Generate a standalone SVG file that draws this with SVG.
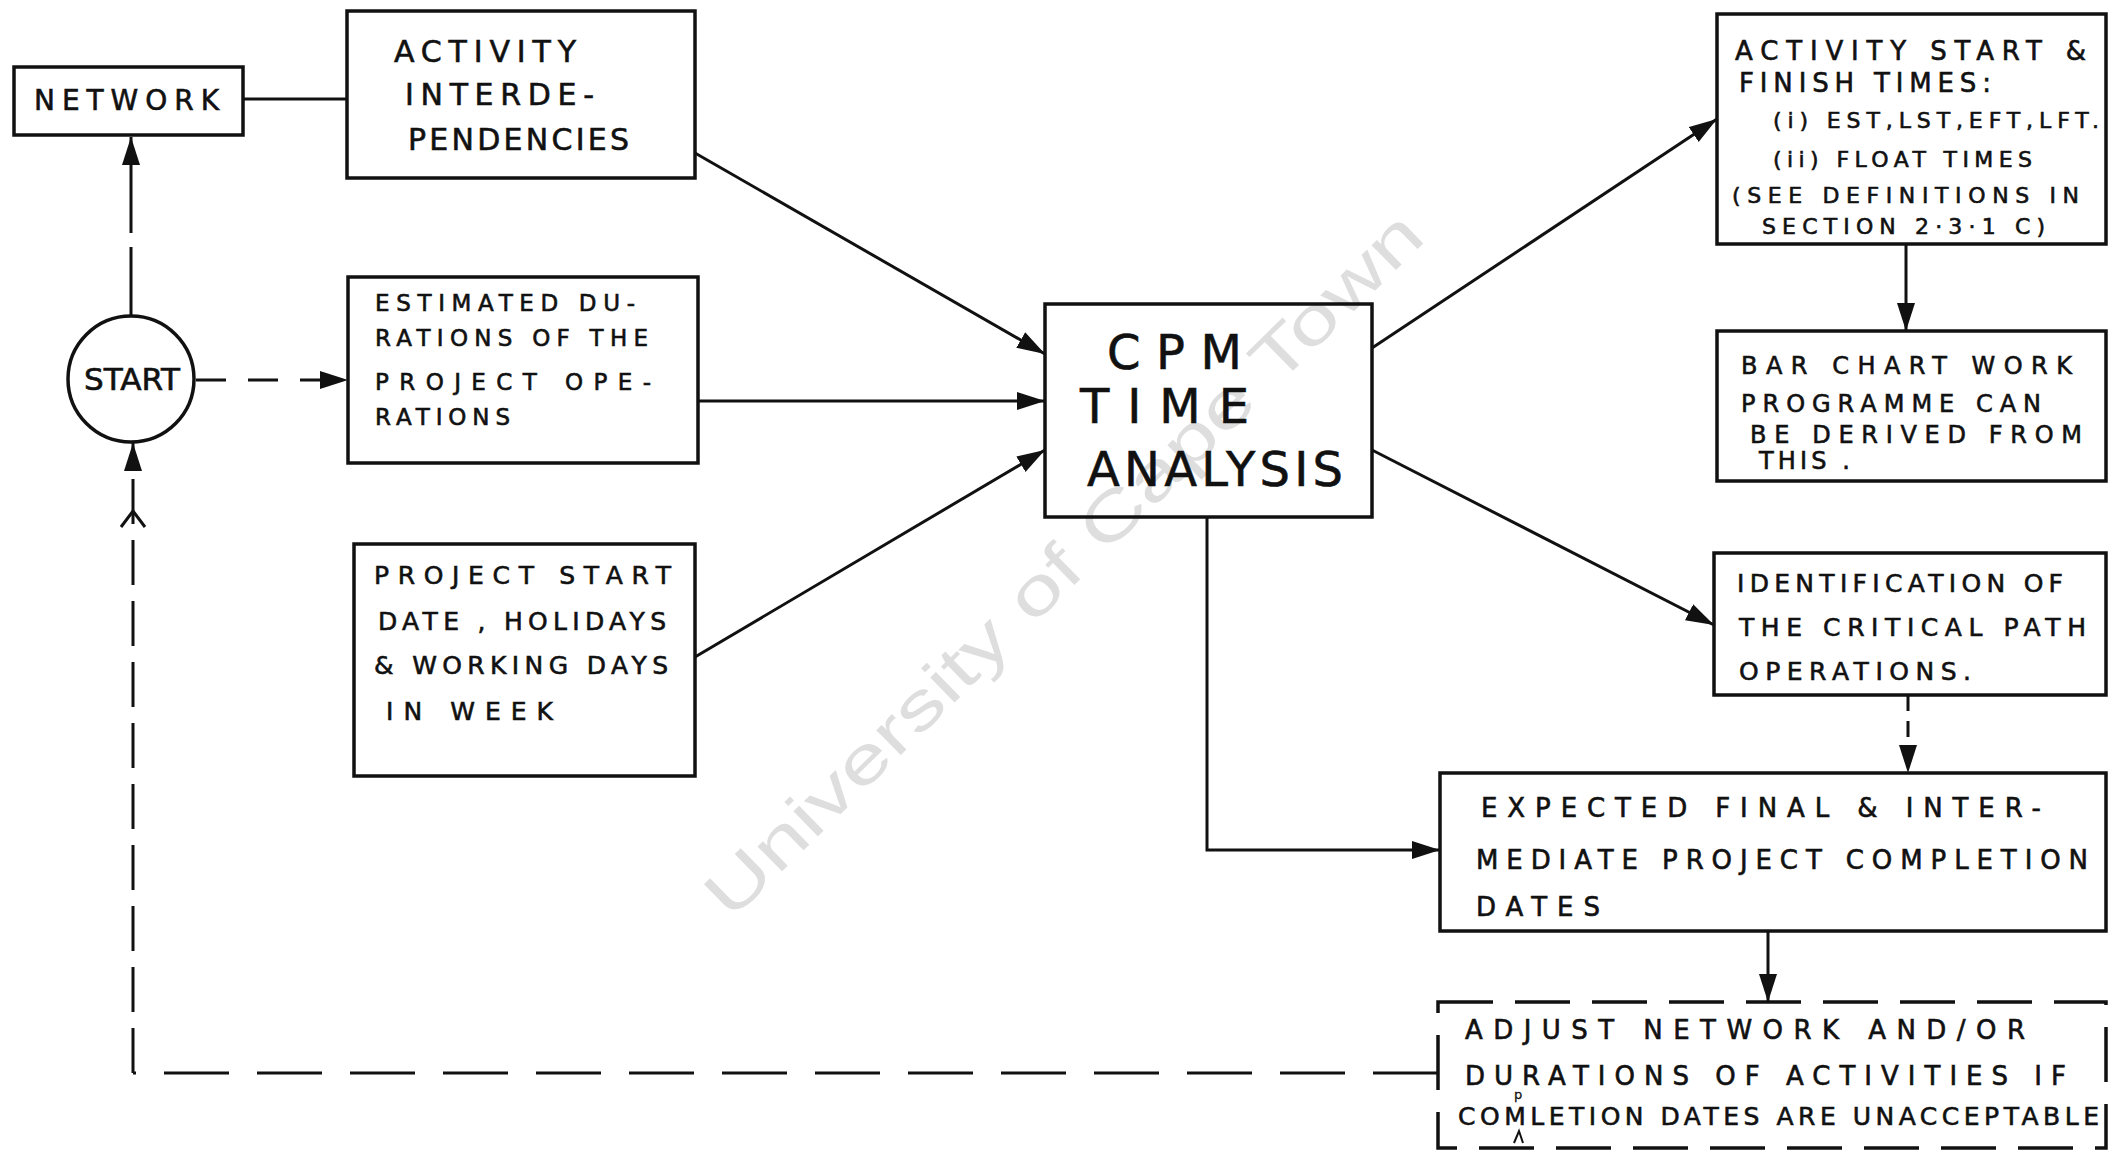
<svg xmlns="http://www.w3.org/2000/svg" width="2117" height="1151" viewBox="0 0 2117 1151">
  <style>
    .box { fill: none; stroke: #111; stroke-width: 3.5; }
    .dbox { fill: none; stroke: #111; stroke-width: 3.5; stroke-dasharray: 55 22; }
    .t { font-family: "DejaVu Sans", "Liberation Sans", sans-serif; fill: #111; stroke: #111; stroke-width: 0.6; font-size: 26px; }
    .ln { fill: none; stroke: #111; stroke-width: 3; }
    .wm { font-family: "Liberation Sans", Arial, sans-serif; font-size: 66px; fill: #dedede; }
  </style>
  <defs>
    <marker id="ah" markerUnits="userSpaceOnUse" markerWidth="30" markerHeight="20" refX="28" refY="9" orient="auto">
      <path d="M0,0 L28,9 L0,18 z" fill="#111"/>
    </marker>
  </defs>

  <rect width="2117" height="1151" fill="#fff"/>

  <!-- watermark -->
  <text class="wm" x="1063" y="587" text-anchor="middle" textLength="975" lengthAdjust="spacingAndGlyphs" transform="rotate(-44.4 1063 564)">University of Cape Town</text>

  <!-- connectors -->
  <g id="connectors">
    <line class="ln" x1="243" y1="99" x2="347" y2="99"/>
    <path class="ln" d="M131,317 V137" stroke-dasharray="70 14" marker-end="url(#ah)"/>
    <path class="ln" d="M196,380 H348" stroke-dasharray="30 22" marker-end="url(#ah)"/>
    <path class="ln" d="M695,153 L1045,354" marker-end="url(#ah)"/>
    <path class="ln" d="M698,401 H1045" marker-end="url(#ah)"/>
    <path class="ln" d="M695,657 L1045,450" marker-end="url(#ah)"/>
    <path class="ln" d="M1372,348 L1717,119" marker-end="url(#ah)"/>
    <path class="ln" d="M1906,244 V331" marker-end="url(#ah)"/>
    <path class="ln" d="M1372,450 L1714,625" marker-end="url(#ah)"/>
    <path class="ln" d="M1908,695 V773" stroke-dasharray="16 10" marker-end="url(#ah)"/>
    <path class="ln" d="M1207,517 V850 H1440" marker-end="url(#ah)"/>
    <path class="ln" d="M1768,931 V1002" marker-end="url(#ah)"/>
    <path class="ln" d="M1438,1073 H133" stroke-dasharray="65 28"/>
    <path class="ln" d="M133,1073 V443" stroke-dasharray="45 16" marker-end="url(#ah)"/>
    <path class="ln" d="M121,527 L133,511 L145,527"/>
  </g>

  <g id="network">
    <rect class="box" x="14" y="67" width="229" height="68"/>
    <text class="t" x="34" y="110" style="font-size:28px" textLength="185" lengthAdjust="spacing">NETWORK</text>
  </g>

  <g id="start">
    <circle class="box" cx="131" cy="379" r="63"/>
    <text class="t" x="84" y="390" style="font-size:30px" textLength="96" lengthAdjust="spacingAndGlyphs">START</text>
  </g>

  <g id="activity-interdependencies">
    <rect class="box" x="347" y="11" width="348" height="167"/>
    <text class="t" x="394" y="62" style="font-size:30px" textLength="182" lengthAdjust="spacing">ACTIVITY</text>
    <text class="t" x="405" y="105" style="font-size:30px" textLength="189" lengthAdjust="spacing">INTERDE-</text>
    <text class="t" x="408" y="150" style="font-size:30px" textLength="221" lengthAdjust="spacing">PENDENCIES</text>
  </g>

  <g id="estimated-durations">
    <rect class="box" x="348" y="277" width="350" height="186"/>
    <text class="t" x="375" y="311" style="font-size:23px" textLength="260" lengthAdjust="spacing">ESTIMATED DU-</text>
    <text class="t" x="375" y="346" style="font-size:23px" textLength="273" lengthAdjust="spacing">RATIONS OF THE</text>
    <text class="t" x="375" y="390" style="font-size:23px" textLength="276" lengthAdjust="spacing">PROJECT OPE-</text>
    <text class="t" x="375" y="425" style="font-size:23px" textLength="135" lengthAdjust="spacing">RATIONS</text>
  </g>

  <g id="project-start">
    <rect class="box" x="354" y="544" width="341" height="232"/>
    <text class="t" x="374" y="584" style="font-size:25px" textLength="297" lengthAdjust="spacing">PROJECT START</text>
    <text class="t" x="378" y="630" style="font-size:25px" textLength="288" lengthAdjust="spacing">DATE , HOLIDAYS</text>
    <text class="t" x="374" y="674" style="font-size:25px" textLength="294" lengthAdjust="spacing">&amp; WORKING DAYS</text>
    <text class="t" x="386" y="720" style="font-size:25px" textLength="167" lengthAdjust="spacing">IN WEEK</text>
  </g>

  <g id="cpm-time-analysis">
    <rect class="box" x="1045" y="304" width="327" height="213"/>
    <text class="t" x="1107" y="369" style="font-size:48px" textLength="135" lengthAdjust="spacing">CPM</text>
    <text class="t" x="1080" y="423" style="font-size:48px" textLength="169" lengthAdjust="spacing">TIME</text>
    <text class="t" x="1087" y="486" style="font-size:48px" textLength="256" lengthAdjust="spacing">ANALYSIS</text>
  </g>

  <g id="activity-times">
    <rect class="box" x="1717" y="14" width="389" height="230"/>
    <text class="t" x="1735" y="60" style="font-size:26px" textLength="351" lengthAdjust="spacing">ACTIVITY START &amp;</text>
    <text class="t" x="1739" y="92" style="font-size:26px" textLength="252" lengthAdjust="spacing">FINISH TIMES:</text>
    <text class="t" x="1773" y="128" style="font-size:22px" textLength="326" lengthAdjust="spacing">(i) EST,LST,EFT,LFT.</text>
    <text class="t" x="1773" y="167" style="font-size:22px" textLength="259" lengthAdjust="spacing">(ii) FLOAT TIMES</text>
    <text class="t" x="1732" y="203" style="font-size:22px" textLength="347" lengthAdjust="spacing">(SEE DEFINITIONS IN</text>
    <text class="t" x="1762" y="234" style="font-size:22px" textLength="283" lengthAdjust="spacing">SECTION 2·3·1 C)</text>
  </g>

  <g id="bar-chart">
    <rect class="box" x="1717" y="331" width="389" height="150"/>
    <text class="t" x="1741" y="374" style="font-size:24px" textLength="331" lengthAdjust="spacing">BAR CHART WORK</text>
    <text class="t" x="1741" y="412" style="font-size:24px" textLength="300" lengthAdjust="spacing">PROGRAMME CAN</text>
    <text class="t" x="1750" y="443" style="font-size:24px" textLength="332" lengthAdjust="spacing">BE DERIVED FROM</text>
    <text class="t" x="1759" y="469" style="font-size:24px" textLength="91" lengthAdjust="spacing">THIS .</text>
  </g>

  <g id="critical-path">
    <rect class="box" x="1714" y="553" width="392" height="142"/>
    <text class="t" x="1737" y="592" style="font-size:25px" textLength="326" lengthAdjust="spacing">IDENTIFICATION OF</text>
    <text class="t" x="1739" y="636" style="font-size:25px" textLength="347" lengthAdjust="spacing">THE CRITICAL PATH</text>
    <text class="t" x="1739" y="680" style="font-size:25px" textLength="232" lengthAdjust="spacing">OPERATIONS.</text>
  </g>

  <g id="completion-dates">
    <rect class="box" x="1440" y="773" width="666" height="158"/>
    <text class="t" x="1481" y="817" textLength="560" lengthAdjust="spacing">EXPECTED FINAL &amp; INTER-</text>
    <text class="t" x="1476" y="869" textLength="612" lengthAdjust="spacing">MEDIATE PROJECT COMPLETION</text>
    <text class="t" x="1476" y="916" textLength="124" lengthAdjust="spacing">DATES</text>
  </g>

  <g id="adjust">
    <rect class="dbox" x="1438" y="1002" width="668" height="146"/>
    <text class="t" x="1465" y="1039" textLength="560" lengthAdjust="spacing">ADJUST NETWORK AND/OR</text>
    <text class="t" x="1465" y="1085" textLength="601" lengthAdjust="spacing">DURATIONS OF ACTIVITIES IF</text>
    <text class="t" x="1458" y="1125" style="font-size:25px" textLength="641" lengthAdjust="spacing">COMLETION DATES ARE UNACCEPTABLE</text>
    <text class="t" x="1514" y="1099" style="font-size:13px;stroke-width:0.3">p</text>
    <path class="ln" style="stroke-width:2" d="M1514,1143 L1519,1131 L1523,1143"/>
  </g>
</svg>
